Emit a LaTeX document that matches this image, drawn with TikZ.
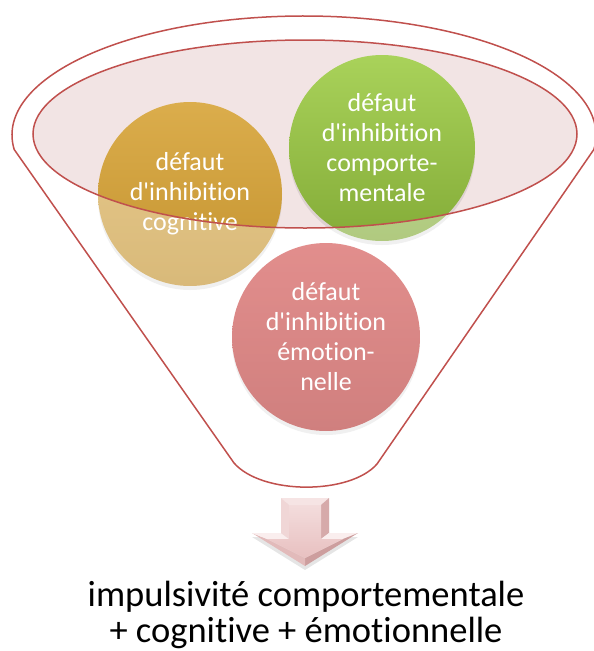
\documentclass[tikz,border=0pt]{standalone}
\usepackage{fontspec}
\newfontfamily\calib{Carlito}[Ligatures=NoCommon]
\usetikzlibrary{shadows}
\definecolor{funnelred}{HTML}{C0504D}
\definecolor{rimfill}{HTML}{F2E4E4}
\definecolor{goldA}{HTML}{DBAD4C}
\definecolor{goldB}{HTML}{C4932F}
\definecolor{greenA}{HTML}{A9D25A}
\definecolor{greenB}{HTML}{84AC38}
\definecolor{redA}{HTML}{D24F4D}
\definecolor{redB}{HTML}{B63836}
\tikzset{
  bubble/.style={circle, minimum size=#1, inner sep=0pt, align=center,
    text=white, font=\calib\fontsize{26}{30}\selectfont,
    drop shadow={opacity=0.18, shadow xshift=0pt, shadow yshift=-4pt}},
  rim/.style={draw=funnelred, line width=1.5pt},
  facet/.style={draw=none}
}
\begin{document}
\begin{tikzpicture}[x=1pt, y=-1pt]
\useasboundingbox (0,0) rectangle (594,651);

% mouth of the funnel (filled interior)
\fill[rimfill] (305,134) ellipse[x radius=272, y radius=94];

% the three bubbles
\node[bubble=184pt, top color=goldA, bottom color=goldB] (cog) at (190,194)
  {défaut\\d'inhibition\\cognitive};
\node[bubble=186pt, top color=greenA, bottom color=greenB] (beh) at (382,148)
  {défaut\\d'inhibition\\comporte-\\mentale};
\node[bubble=188pt, top color=redA, bottom color=redB] (emo) at (326,337)
  {défaut\\d'inhibition\\émotion-\\nelle};

% funnel body: glassy veil over the bubbles below the mouth
\def\funnelpath{(14.2,149.5) arc[start angle=173, end angle=367, x radius=292, y radius=119]
  -- (377,464) .. controls (350,495) and (262,495) .. (234,463) -- cycle}
\fill[white, opacity=0.36, even odd rule] \funnelpath
  (305,134) ellipse[x radius=272, y radius=94];

% outlines
\draw[rim, line join=round] \funnelpath;
\draw[rim] (305,134) ellipse[x radius=272, y radius=94];

% bevelled down arrow
\coordinate (o1) at (281,498); \coordinate (o2) at (329,498);
\coordinate (o3) at (329,533); \coordinate (o4) at (358,533);
\coordinate (o5) at (305,566); \coordinate (o6) at (252,533);
\coordinate (o7) at (281,533);
\coordinate (i1) at (289,505); \coordinate (i2) at (321,505);
\coordinate (i3) at (321,539); \coordinate (i4) at (343,539);
\coordinate (i5) at (305,558); \coordinate (i6) at (267,539);
\coordinate (i7) at (289,539);
\fill[black, opacity=0.10] ([yshift=-4pt]o1) -- ([yshift=-4pt]o2) -- ([yshift=-4pt]o3)
  -- ([yshift=-4pt]o4) -- ([yshift=-4pt]o5) -- ([yshift=-4pt]o6) -- ([yshift=-4pt]o7) -- cycle;
\fill[facet, fill={rgb,255:red,246;green,228;blue,228}] (o1) -- (o2) -- (i2) -- (i1) -- cycle;
\fill[facet, fill={rgb,255:red,214;green,170;blue,170}] (o2) -- (o3) -- (i3) -- (i2) -- cycle;
\fill[facet, fill={rgb,255:red,250;green,238;blue,238}] (o3) -- (o4) -- (i4) -- (i3) -- cycle;
\fill[facet, fill={rgb,255:red,205;green,158;blue,158}] (o4) -- (o5) -- (i5) -- (i4) -- cycle;
\fill[facet, fill={rgb,255:red,226;green,186;blue,186}] (o5) -- (o6) -- (i6) -- (i5) -- cycle;
\fill[facet, fill={rgb,255:red,250;green,238;blue,238}] (o6) -- (o7) -- (i7) -- (i6) -- cycle;
\fill[facet, fill={rgb,255:red,240;green,214;blue,214}] (o7) -- (o1) -- (i1) -- (i7) -- cycle;
\shade[top color={rgb,255:red,243;green,220;blue,220}, bottom color={rgb,255:red,232;green,192;blue,192}]
  (i1) -- (i2) -- (i3) -- (i4) -- (i5) -- (i6) -- (i7) -- cycle;

% outcome
\node[align=center, font=\calib\fontsize{36.5}{36}\selectfont, text=black] (res) at (306,615)
  {impulsivité comportementale\\+ cognitive + émotionnelle};
\end{tikzpicture}
\end{document}
